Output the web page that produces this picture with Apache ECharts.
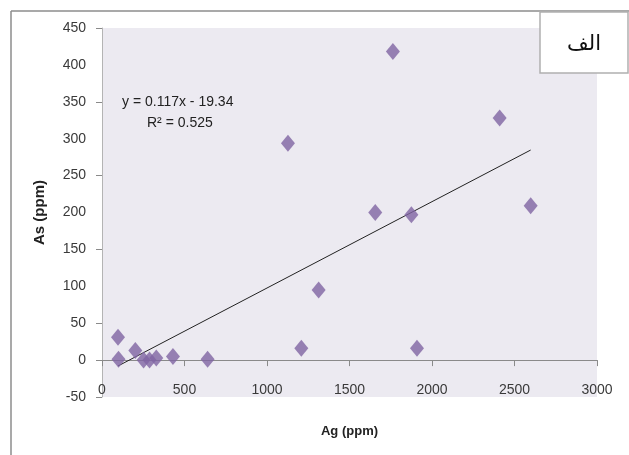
<!DOCTYPE html>
<html>
<head>
<meta charset="utf-8">
<title>Ag - As</title>
<script src="https://cdn.jsdelivr.net/npm/echarts@6/dist/echarts.min.js"></script>
<style>
  html, body { margin: 0; padding: 0; background: #fff; }
  #main { width: 629px; height: 455px; }
</style>
</head>
<body>
<div id="main"></div>
<script>
// data
const agValues = [97, 100, 202, 252, 288, 329, 430, 640, 1127, 1208, 1313, 1656, 1763, 1875, 1909, 2410, 2598];
const asValues = [31, 1, 13, 0, 0, 3, 5, 1, 294, 16, 95, 200, 418, 197, 16, 328, 209];
// trendline printed on the chart: y = 0.117x - 19.34
const trendSlope = 0.117;
const trendIntercept = -19.34;
const trendX = [97, 2598];
const yTicks = [-50, 0, 50, 150, 250, 350, 450];

const points = agValues.map((x, i) => [x, asValues[i]]);
const trend = trendX.map(x => [x, trendSlope * x + trendIntercept]);

const font = "'Liberation Sans', sans-serif";

const chart = echarts.init(document.getElementById('main'));
chart.setOption({
  animation: false,
  grid: {
    left: 102, right: 32, top: 28, bottom: 58,
    show: true, backgroundColor: '#ECEAF1', borderWidth: 0
  },
  xAxis: [
    {
      type: 'value', min: 0, max: 3000, interval: 500,
      axisLine: { onZero: true, lineStyle: { color: '#8a8a8a', width: 1 } },
      axisTick: { show: true, length: 6, lineStyle: { color: '#8a8a8a' } },
      axisLabel: { show: false },
      splitLine: { show: false }
    },
    {
      type: 'value', min: 0, max: 3000, interval: 500, position: 'bottom',
      axisLine: { show: false }, axisTick: { show: false },
      axisLabel: { inside: true, margin: 0, fontSize: 14, color: '#3a3a3a', fontFamily: font, formatter: v => String(v) },
      splitLine: { show: false },
      name: 'Ag (ppm)', nameLocation: 'middle', nameGap: 28,
      nameTextStyle: { fontSize: 13, fontWeight: 'bold', color: '#222', fontFamily: font }
    }
  ],
  yAxis: {
    type: 'value', min: -50, max: 450, interval: 50,
    axisLine: { show: true, onZero: false, lineStyle: { color: '#b4b4b4' } },
    axisTick: { show: true, length: 6, customValues: yTicks, lineStyle: { color: '#8a8a8a' } },
    axisLabel: { margin: 16, fontSize: 14, color: '#3a3a3a', fontFamily: font },
    splitLine: { show: false },
    name: 'As (ppm)', nameLocation: 'middle', nameGap: 55,
    nameTextStyle: { fontSize: 15, fontWeight: 'bold', color: '#222', fontFamily: font }
  },
  series: [
    {
      type: 'line', data: trend, xAxisIndex: 0, showSymbol: false,
      lineStyle: { color: '#222', width: 1 }, z: 3
    },
    {
      type: 'scatter', data: points, xAxisIndex: 0,
      symbol: 'diamond', symbolSize: [14, 17],
      itemStyle: { color: '#8064A2' }, z: 4
    }
  ],
  graphic: [
    { type: 'line', shape: { x1: 11, y1: 11, x2: 629, y2: 11 }, style: { stroke: '#8c8c8c', lineWidth: 1.5 } },
    { type: 'line', shape: { x1: 11, y1: 11, x2: 11, y2: 455 }, style: { stroke: '#8c8c8c', lineWidth: 1.5 } },
    { type: 'rect', shape: { x: 540, y: 12, width: 88, height: 61 }, style: { fill: '#fff', stroke: '#b0b0b0', lineWidth: 1.5 }, z: 10 },
    { type: 'text', x: 584, y: 44, style: { text: 'الف', fontSize: 21, fontFamily: "'Noto Sans', 'DejaVu Sans', sans-serif", fill: '#111', align: 'center', verticalAlign: 'middle' }, z: 11 },
    { type: 'text', x: 122, y: 102, style: { text: 'y = 0.117x - 19.34', fontSize: 14, fontFamily: font, fill: '#222', verticalAlign: 'middle' }, z: 11 },
    { type: 'text', x: 147, y: 123, style: { text: 'R² = 0.525', fontSize: 14, fontFamily: font, fill: '#222', verticalAlign: 'middle' }, z: 11 }
  ]
});
</script>
</body>
</html>
